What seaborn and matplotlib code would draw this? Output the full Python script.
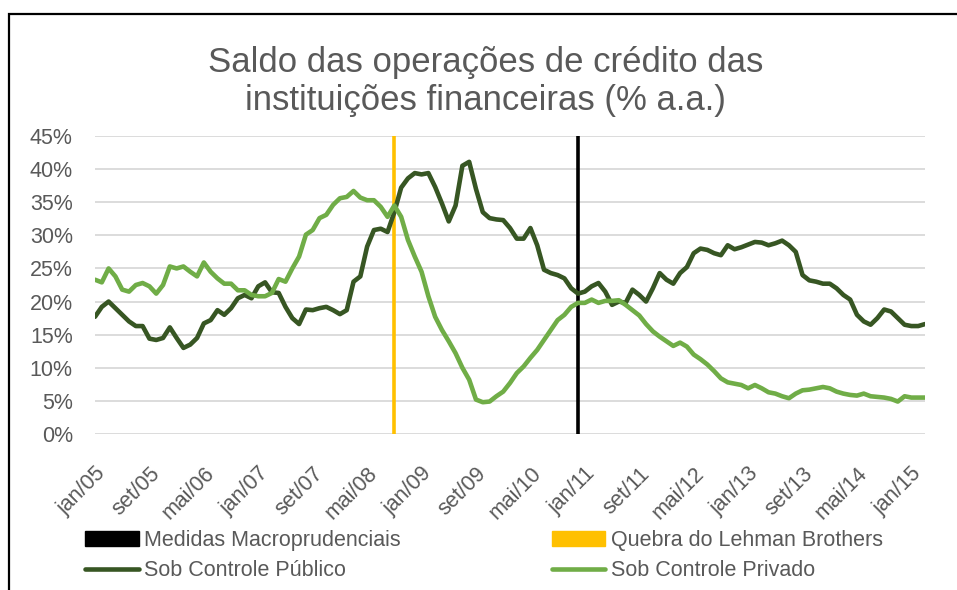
import matplotlib
matplotlib.use("Agg")
import matplotlib.pyplot as plt
import matplotlib.ticker as mtick
from matplotlib.patches import Patch, Rectangle
from matplotlib.lines import Line2D
import numpy as np
import pandas as pd
import seaborn as sns

# monthly series, jan/05 .. mar/15 (% a.a.)
publico = [17.7, 19.2, 20.0, 19.0, 18.0, 17.0, 16.3, 16.3, 14.4, 14.2,
           14.5, 16.1, 14.5, 13.0, 13.5, 14.5, 16.7, 17.2, 18.7, 18.0,
           19.0, 20.5, 21.0, 20.5, 22.3, 22.9, 21.4, 21.3, 19.2, 17.5,
           16.6, 18.8, 18.7, 19.0, 19.2, 18.7, 18.1, 18.7, 23.0, 23.8,
           28.3, 30.8, 31.0, 30.5, 33.5, 37.2, 38.6, 39.4, 39.2, 39.4,
           37.3, 34.8, 32.1, 34.5, 40.5, 41.1, 37.0, 33.5, 32.6, 32.4,
           32.3, 31.1, 29.5, 29.5, 31.1, 28.5, 24.8, 24.3, 24.0, 23.5,
           22.0, 21.2, 21.5, 22.3, 22.8, 21.5, 19.5, 20.0, 19.8, 21.8,
           21.0, 20.0, 22.0, 24.3, 23.3, 22.7, 24.3, 25.2, 27.3, 28.0,
           27.8, 27.3, 27.0, 28.5, 27.9, 28.2, 28.6, 29.0, 28.9, 28.5,
           28.8, 29.2, 28.5, 27.5, 24.0, 23.2, 23.0, 22.7, 22.7, 22.0,
           21.0, 20.3, 18.0, 17.0, 16.5, 17.5, 18.8, 18.5, 17.5, 16.5,
           16.3, 16.3, 16.6]
privado = [23.3, 22.9, 25.0, 23.8, 21.8, 21.5, 22.5, 22.8, 22.3, 21.2,
           22.5, 25.3, 25.0, 25.3, 24.5, 23.8, 25.9, 24.5, 23.5, 22.7,
           22.7, 21.7, 21.7, 21.0, 20.8, 20.8, 21.3, 23.4, 23.0, 25.0,
           26.8, 30.1, 30.8, 32.6, 33.1, 34.6, 35.6, 35.8, 36.7, 35.7,
           35.3, 35.3, 34.3, 32.8, 34.5, 32.8, 29.3, 26.8, 24.5, 20.8,
           17.7, 15.7, 14.0, 12.2, 10.0, 8.2, 5.2, 4.8, 4.9, 5.7,
           6.4, 7.7, 9.2, 10.2, 11.5, 12.7, 14.2, 15.7, 17.2, 18.0,
           19.2, 19.8, 19.8, 20.3, 19.8, 20.1, 20.1, 20.2, 19.5, 18.7,
           17.9, 16.6, 15.5, 14.7, 14.0, 13.3, 13.8, 13.2, 12.0, 11.3,
           10.5, 9.5, 8.4, 7.8, 7.6, 7.4, 6.9, 7.4, 6.9, 6.3,
           6.1, 5.7, 5.4, 6.1, 6.6, 6.7, 6.9, 7.1, 6.9, 6.4,
           6.1, 5.9, 5.8, 6.1, 5.7, 5.6, 5.5, 5.3, 4.9, 5.7,
           5.5, 5.5, 5.5]

meses = ['jan', 'fev', 'mar', 'abr', 'mai', 'jun', 'jul', 'ago', 'set',
         'out', 'nov', 'dez']
datas = ['%s/%02d' % (meses[i % 12], 5 + i // 12) for i in range(len(publico))]
lehman = 'set/08'
macropru = 'dez/10'

df = pd.DataFrame({
    'mes': list(range(len(datas))) * 2,
    'valor': [v / 100 for v in publico + privado],
    'serie': ['Sob Controle Público'] * len(publico) + ['Sob Controle Privado'] * len(privado),
})

cinza = '#595959'
verde_esc = '#375623'
verde_cla = '#70ad47'
laranja = '#ffc000'

sns.set_theme(style='white')
plt.rcParams['font.family'] = ['Liberation Sans', 'DejaVu Sans']

fig = plt.figure(figsize=(9.57, 5.90), dpi=100)
ax = fig.add_axes([95 / 957, 1 - 434 / 590, 830 / 957, 298 / 590])

# moldura
fig.patches.append(Rectangle((9 / 957, -0.01), 1.0, 1 - 14 / 590 + 0.01,
                             transform=fig.transFigure, fill=False,
                             edgecolor='black', lw=1.6))

for v in np.arange(0, 0.451, 0.05):
    ax.axhline(v, color='#d9d9d9', lw=1.3, zorder=0)

ax.axvline(datas.index(lehman), color=laranja, lw=2.6, zorder=2)
ax.axvline(datas.index(macropru), color='black', lw=2.6, zorder=2)

sns.lineplot(data=df, x='mes', y='valor', hue='serie',
             palette={'Sob Controle Público': verde_esc,
                      'Sob Controle Privado': verde_cla},
             lw=3.3, ax=ax, legend=False, zorder=3)

ax.set_xlim(0, len(datas) - 1)
ax.set_ylim(0, 0.45)
ax.set_yticks(np.arange(0, 0.451, 0.05))
ax.yaxis.set_major_formatter(mtick.PercentFormatter(1.0, decimals=0))
pos = list(range(0, len(datas), 8))
ax.set_xticks(pos)
ax.set_xticklabels([datas[i] for i in pos], rotation=45, ha='right',
                   rotation_mode='anchor')
ax.tick_params(axis='both', length=0, labelsize=15.5, colors=cinza)
ax.tick_params(axis='y', pad=16)
ax.tick_params(axis='x', pad=21)
ax.set_xlabel('')
ax.set_ylabel('')
sns.despine(ax=ax, left=True, bottom=True)

fig.text(0.507, 0.862, 'Saldo das operações de crédito das\ninstituições financeiras (% a.a.)',
         ha='center', va='center', fontsize=25, color=cinza, linespacing=1.2)

handles = [Patch(color='black'),
           Line2D([], [], color=verde_esc, lw=3.3),
           Patch(color=laranja),
           Line2D([], [], color=verde_cla, lw=3.3)]
labels = ['Medidas Macroprudenciais', 'Sob Controle Público',
          'Quebra do Lehman Brothers', 'Sob Controle Privado']
fig.legend(handles, labels, ncol=2, loc='upper left',
           bbox_to_anchor=(85 / 957, 1 - 530 / 590), frameon=False,
           fontsize=15.5, labelcolor=cinza, handlelength=2.5,
           handleheight=0.65, handletextpad=0.25, columnspacing=7.0,
           labelspacing=0.42, borderaxespad=0, borderpad=0)

fig.savefig('out.png', dpi=100)
